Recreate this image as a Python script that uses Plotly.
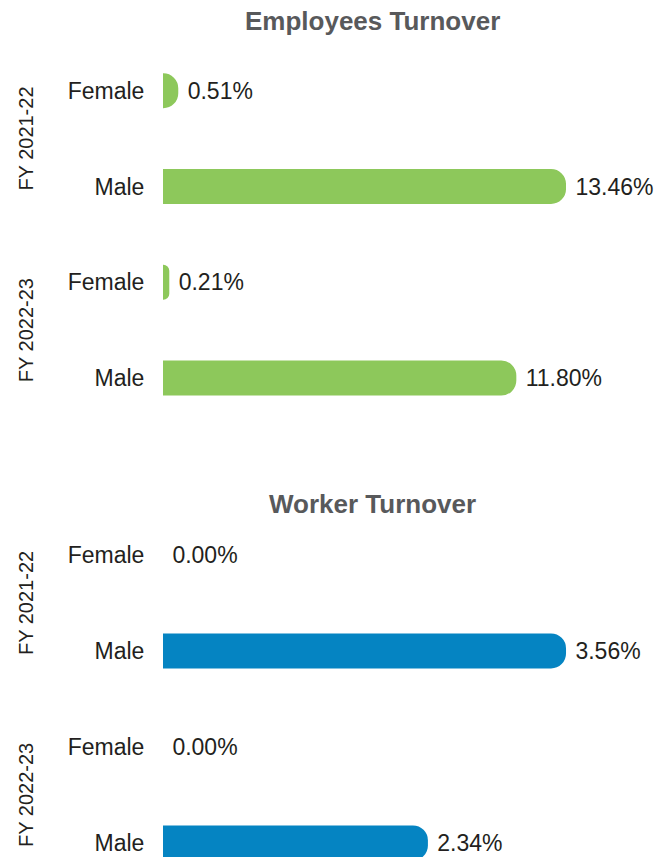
import plotly.graph_objects as go

# Turnover rates (%) by financial year and gender
years = ["FY 2021-22", "FY 2021-22", "FY 2022-23", "FY 2022-23"]
genders = ["Female", "Male", "Female", "Male"]
employee_turnover = [0.51, 13.46, 0.21, 11.80]
worker_turnover = [0.00, 3.56, 0.00, 2.34]

GREEN = "#8dc85b"
BLUE = "#0584c2"
TEXT = "#231f20"
TITLE = "#58595b"
FONT = "Liberation Sans, Arial, Helvetica, sans-serif"

# unique category keys so that repeated gender names stay separate rows
keys = [f"{y} | {g}" for y, g in zip(years, genders)]

fig = go.Figure()


def add_panel(values, color, xa, ya):
    fig.add_trace(go.Bar(
        x=values, y=keys, orientation="h",
        marker=dict(color=color, cornerradius="45%", line=dict(width=0)),
        text=[f"\u00a0{v:.2f}%" for v in values],
        textposition="outside",
        textfont=dict(family=FONT, size=23, color=TEXT),
        constraintext="none",
        cliponaxis=False,
        hoverinfo="skip",
        xaxis=xa, yaxis=ya,
        showlegend=False,
    ))


add_panel(employee_turnover, GREEN, "x", "y")
add_panel(worker_turnover, BLUE, "x2", "y2")

xaxis_common = dict(showgrid=False, zeroline=False, showline=False,
                    showticklabels=False, ticks="", fixedrange=True)
yaxis_common = dict(type="category", categoryorder="array", categoryarray=keys,
                    tickvals=keys, ticktext=genders,
                    ticks="outside", ticklen=13, tickcolor="rgba(0,0,0,0)",
                    showgrid=False, zeroline=False, showline=False,
                    tickfont=dict(family=FONT, size=23, color=TEXT),
                    fixedrange=True)

fig.update_layout(
    width=668, height=857,
    margin=dict(l=163, r=0, t=0, b=0),
    paper_bgcolor="white", plot_bgcolor="white",
    bargap=0.635,
    xaxis=dict(domain=[0, 1], range=[0, max(employee_turnover) * 1.253],
               anchor="y", **xaxis_common),
    yaxis=dict(domain=[0.503, 0.950], range=[len(keys) - 0.5, -0.5],
               anchor="x", **yaxis_common),
    xaxis2=dict(domain=[0, 1], range=[0, max(worker_turnover) * 1.253],
                anchor="y2", **xaxis_common),
    yaxis2=dict(domain=[0.0, 0.4084], range=[len(keys) - 1 + 0.146, -0.5],
                anchor="x2", **yaxis_common),
)

annotations = []
# panel titles
for text, ypos in [("Employees Turnover", 1 - 21 / 857), ("Worker Turnover", 1 - 504 / 857)]:
    annotations.append(dict(
        text=f"<b>{text}</b>", xref="paper", yref="paper",
        x=(372 - 163) / 505, y=ypos, xanchor="center", yanchor="middle",
        showarrow=False, font=dict(family=FONT, size=26, color=TITLE),
    ))

# rotated year labels centred on each pair of rows
for ya in ["y", "y2"]:
    for year in dict.fromkeys(years):
        idx = [i for i, y in enumerate(years) if y == year]
        annotations.append(dict(
            text=year, xref="paper", yref=ya,
            x=0, y=sum(idx) / len(idx), xshift=-137,
            xanchor="center", yanchor="middle", textangle=-90,
            showarrow=False, font=dict(family=FONT, size=20, color=TEXT),
        ))

fig.update_layout(annotations=annotations)

fig.write_html("out.html", config={"displayModeBar": False})
